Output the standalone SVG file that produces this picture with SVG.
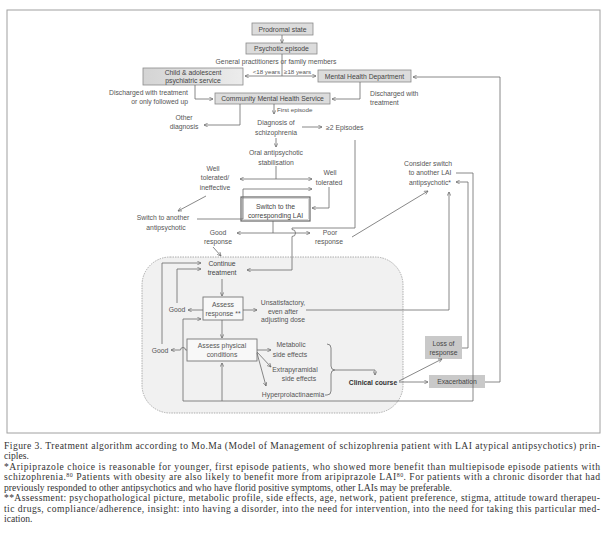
<svg xmlns="http://www.w3.org/2000/svg" width="608" height="537" viewBox="0 0 608 537">
<defs>
<marker id="a" viewBox="0 0 6 6" refX="5.5" refY="3" markerWidth="4.5" markerHeight="4.5" markerUnits="userSpaceOnUse" orient="auto">
<path d="M0.5,0.5 L5.5,3 L0.5,5.5" fill="none" stroke="#666" stroke-width="0.9"/>
</marker>
<linearGradient id="g" x1="0" x2="1" y1="0" y2="0"><stop offset="0" stop-color="#d4d4d4"/><stop offset="1" stop-color="#ececec"/></linearGradient>
</defs>
<style>
text{font-family:"Liberation Sans",Arial,sans-serif;font-size:6.8px;fill:#555;text-anchor:middle}
.s{font-size:6.2px}
.l{text-anchor:start}
.r{text-anchor:end}
.bx{fill:#dcdcdc;stroke:#8a8a8a;stroke-width:0.8}
.dk{fill:#c9c9c9;stroke:none}
.wb{fill:#f8f8f8;stroke:#777;stroke-width:0.9}
.bt{fill:#444}
.c path,.c line{fill:none;stroke:#6a6a6a;stroke-width:0.8}
.m{marker-end:url(#a)}
.cap{font-family:"Liberation Serif","Times New Roman",serif;font-size:9.6px;fill:#333;text-anchor:start}
</style>
<rect x="0" y="0" width="608" height="537" fill="#fff"/>
<rect x="7" y="10" width="593" height="423" fill="none" stroke="#a0a0a0" stroke-width="1"/>
<rect id="zone" x="142" y="257" width="261" height="156" rx="28" fill="#f1f1f1" stroke="#9a9a9a" stroke-width="0.8" stroke-dasharray="1.5,1"/>

<g id="prodromal"><rect class="bx" x="252" y="23" width="61" height="12"/><text class="bt" x="282.5" y="31.5">Prodromal state</text></g>
<g id="psychotic"><rect class="bx" x="246" y="43" width="71" height="11"/><text class="bt" x="281.5" y="51">Psychotic episode</text></g>
<g id="gp"><text x="276" y="64">General practitioners or family members</text></g>
<g id="age"><text class="s r" x="280" y="73.5">&lt;18 years</text><text class="s l" x="284" y="73.5">≥18 years</text></g>
<g id="child"><rect x="143" y="68" width="100" height="17" fill="url(#g)" stroke="#8a8a8a" stroke-width="0.8"/><text class="bt" x="193" y="75">Child &amp; adolescent</text><text class="bt" x="193" y="83">psychiatric service</text></g>
<g id="mhd"><rect class="bx" x="318" y="70" width="93" height="12"/><text class="bt" x="364.5" y="78.5">Mental Health Department</text></g>
<g id="discharged1"><text class="r" x="188" y="95">Discharged with treatment</text><text class="r" x="188" y="104">or only followed up</text></g>
<g id="cmhs"><rect class="bx" x="215" y="93" width="115" height="11"/><text class="bt" x="272.5" y="101">Community Mental Health Service</text></g>
<g id="discharged2"><text class="l" x="370" y="96">Discharged with</text><text class="l" x="370" y="105">treatment</text></g>
<g id="first"><text class="l s" x="277" y="112">First episode</text></g>
<g id="other"><text x="184" y="120">Other</text><text x="184" y="129">diagnosis</text></g>
<g id="diagnosis"><text x="276" y="125">Diagnosis of</text><text x="276" y="135">schizophrenia</text></g>
<g id="episodes"><text class="l" x="326" y="129.5">≥2 Episodes</text></g>
<g id="oral"><text x="276" y="155">Oral antipsychotic</text><text x="276" y="165">stabilisation</text></g>
<g id="welltol1"><text x="213" y="171">Well</text><text x="215" y="180">tolerated/</text><text x="215" y="190">ineffective</text></g>
<g id="welltol2"><text x="330" y="175">Well</text><text x="329" y="185">tolerated</text></g>
<g id="switchanother"><text x="163" y="220">Switch to another</text><text x="166" y="230">antipsychotic</text></g>
<g id="lai"><rect x="241" y="197" width="69" height="24" fill="#fff" stroke="#666" stroke-width="1.2"/><rect x="242.5" y="198.5" width="66" height="21" fill="none" stroke="#999" stroke-width="0.4"/><text class="bt" x="275.5" y="208.5">Switch to the</text><text class="bt" x="275.5" y="217.5">corresponding LAI</text></g>
<g id="good1"><text x="218" y="235">Good</text><text x="218" y="244">response</text></g>
<g id="poor"><text x="330" y="235">Poor</text><text x="329" y="244">response</text></g>
<g id="consider"><text x="428" y="166">Consider switch</text><text x="430" y="175">to another LAI</text><text x="430" y="185">antipsychotic*</text></g>
<g id="continue"><text class="bt" x="222" y="266">Continue</text><text class="bt" x="222" y="275">treatment</text></g>
<g id="assessresp"><rect class="wb" x="203" y="297" width="40" height="23"/><text x="223" y="306.5">Assess</text><text x="223" y="316">response **</text></g>
<g id="good2"><text x="177" y="312">Good</text></g>
<g id="unsat"><text x="283" y="305">Unsatisfactory,</text><text x="283" y="313.5">even after</text><text x="283" y="322">adjusting dose</text></g>
<g id="good3"><text x="160" y="352.5">Good</text></g>
<g id="assessphys"><rect class="wb" x="187" y="339" width="70" height="22"/><text x="222" y="348">Assess physical</text><text x="222" y="357">conditions</text></g>
<g id="metabolic"><text x="291" y="347">Metabolic</text><text x="290" y="357">side effects</text></g>
<g id="extra"><text x="295" y="372">Extrapyramidal</text><text x="299" y="381">side effects</text></g>
<g id="hyper"><text x="293" y="396.5">Hyperprolactinaemia</text></g>
<g id="clinical"><text x="373" y="384.5" font-weight="bold" style="fill:#333">Clinical course</text></g>
<g id="loss"><rect class="dk" x="425" y="336" width="37" height="23"/><text class="bt" x="443.5" y="345.5">Loss of</text><text class="bt" x="443.5" y="355">response</text></g>
<g id="exacerbation"><rect class="dk" x="429" y="375" width="56" height="13"/><text class="bt" x="457" y="384">Exacerbation</text></g>

<g id="connectors" class="c">
<path class="m" d="M282,35 V43"/>
<path d="M282,54 V76"/>
<path class="m" d="M282,76 H245"/>
<path class="m" d="M282,76 H316"/>
<path class="m" d="M195,85 V99 H213"/>
<path class="m" d="M360,82 V99 H332"/>
<path class="m" d="M274,104 V114"/>
<path class="m" d="M240,104 V125 H204"/>
<path class="m" d="M302,127 H322"/>
<path class="m" d="M276,138 V147"/>
<path d="M276,166 V179"/>
<path class="m" d="M276,179 H240"/>
<path class="m" d="M276,179 H312"/>
<path class="m" d="M206,196 L178,211"/>
<path class="m" d="M197,219 H243 V189 H312"/>
<path class="m" d="M329,187 V208 H312"/>
<path d="M273,221 V233"/>
<path class="m" d="M273,233 H237"/>
<path class="m" d="M273,233 H310"/>
<path class="m" d="M355,140 V228 H292 V229.5 a3.5,3.5 0 0 1 0,7 V270 H247"/>
<path class="m" d="M213,247 L221,256"/>
<path class="m" d="M352,237 L428,191"/>
<path class="m" d="M456,173 H473 V401 H183 V319 H201"/>
<path class="m" d="M222,401 V363"/>
<path class="m" d="M462,348 H468 V182 H456"/>
<path class="m" d="M306,310 H449 V192"/>
<path class="m" d="M485,382 H500 V77 H413"/>
<path class="m" d="M222,279 V296"/>
<path class="m" d="M203,310 H188"/>
<path class="m" d="M243,310 H257"/>
<path class="m" d="M222,320 V338"/>
<path class="m" d="M177,303 V269 H201"/>
<path class="m" d="M162,344 V263 H201"/>
<path class="m" d="M187,350 H185.5 a2.5,2.5 0 0 0 -5,0 H171"/>
<path class="m" d="M257,350 H271"/>
<path class="m" d="M257,352 L271,367"/>
<path class="m" d="M257,353 L266,386"/>
<path d="M327,344 q4,0 4,4 V366 q0,4 4,4 q-4,0 -4,4 V391 q0,4 -4,4 M325,395 H327"/>
<path class="m" d="M335,370 H375 V375"/>
<path class="m" d="M399,381 L442,359"/>
<path class="m" d="M399,382 H428"/>
</g>

<g id="caption">
<text class="cap" x="4" y="448.5" textLength="596" lengthAdjust="spacing">Figure 3. Treatment algorithm according to Mo.Ma (Model of Management of schizophrenia patient with LAI atypical antipsychotics) prin-</text>
<text class="cap" x="4" y="459">ciples.</text>
<text class="cap" x="4" y="469.5" textLength="596" lengthAdjust="spacing">*Aripiprazole choice is reasonable for younger, first episode patients, who showed more benefit than multiepisode episode patients with</text>
<text class="cap" x="4" y="480" textLength="596" lengthAdjust="spacing">schizophrenia.<tspan font-size="6" dy="-3.5">80</tspan><tspan dy="3.5"> Patients with obesity are also likely to benefit more from aripiprazole LAI</tspan><tspan font-size="6" dy="-3.5">80</tspan><tspan dy="3.5">. For patients with a chronic disorder that had</tspan></text>
<text class="cap" x="4" y="490.5" textLength="448" lengthAdjust="spacing">previously responded to other antipsychotics and who have florid positive symptoms, other LAIs may be preferable.</text>
<text class="cap" x="4" y="501" textLength="596" lengthAdjust="spacing">**Assessment: psychopathological picture, metabolic profile, side effects, age, network, patient preference, stigma, attitude toward therapeu-</text>
<text class="cap" x="4" y="511.5" textLength="596" lengthAdjust="spacing">tic drugs, compliance/adherence, insight: into having a disorder, into the need for intervention, into the need for taking this particular med-</text>
<text class="cap" x="4" y="522">ication.</text>
</g>
</svg>
